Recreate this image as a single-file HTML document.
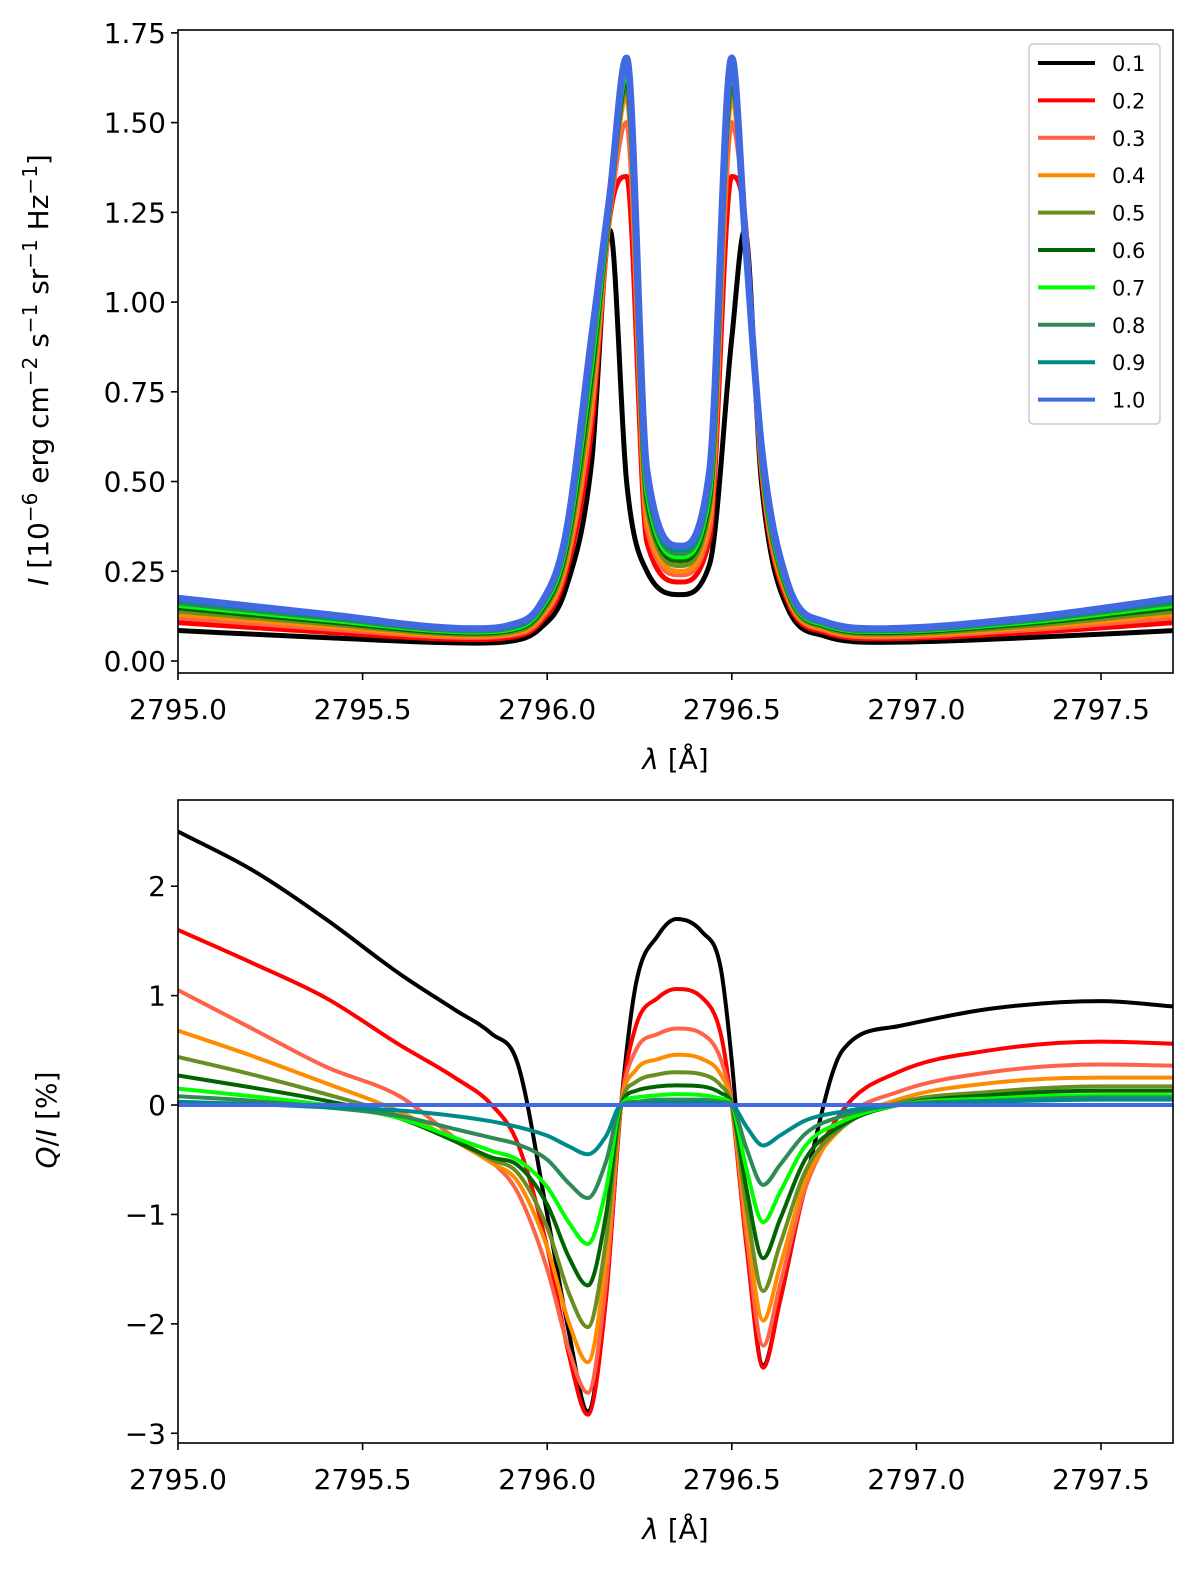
<!DOCTYPE html>
<html><head><meta charset="utf-8"><style>
body{margin:0;background:#fff;}
svg text{font-family:"DejaVu Sans","Liberation Sans",sans-serif;fill:#000;}
</style></head><body>
<svg id="fig" width="1200" height="1578" xmlns="http://www.w3.org/2000/svg"></svg>
<script>
const colors=["#000000","#ff0000","#ff6347","#ff8c00","#6b8e23","#006400","#00ff00","#2e8b57","#008b8b","#4169e1"];
const labels=["0.1","0.2","0.3","0.4","0.5","0.6","0.7","0.8","0.9","1.0"];
const gTop=[2795.0,2795.4,2795.8,2795.9,2795.98,2796.05,2796.12,2796.17,2796.215,2796.27,2796.36,2796.44,2796.5,2796.535,2796.58,2796.65,2796.75,2796.9,2797.3,2797.7];
const I01=[.085,.065,.05,.055,.09,.2,.55,1.2,.5,.25,.185,.27,.9,1.2,.5,.15,.07,.052,.065,.085];
const I02=[.107,.08,.06,.066,.105,.24,.64,1.24,1.35,.33,.22,.34,1.35,1.24,.53,.17,.08,.062,.079,.107];
const I03=[.121,.09,.066,.072,.113,.26,.69,1.25,1.5,.37,.24,.37,1.5,1.24,.54,.18,.086,.067,.087,.121];
const I04=[.13,.097,.07,.076,.12,.275,.725,1.26,1.57,.4,.25,.4,1.57,1.23,.55,.185,.09,.071,.093,.13];
const I05=[.139,.104,.074,.08,.127,.29,.76,1.27,1.6,.43,.266,.43,1.6,1.23,.56,.192,.094,.075,.098,.139];
const I06=[.148,.11,.078,.085,.134,.305,.795,1.27,1.62,.45,.28,.45,1.62,1.22,.565,.2,.098,.079,.104,.148];
const I07=[.155,.115,.081,.088,.14,.317,.823,1.28,1.64,.47,.29,.47,1.64,1.22,.57,.205,.101,.082,.108,.155];
const I08=[.162,.12,.084,.092,.145,.328,.848,1.29,1.66,.49,.30,.49,1.66,1.21,.575,.21,.104,.084,.112,.162];
const I09=[.169,.125,.087,.095,.15,.34,.876,1.29,1.67,.51,.31,.51,1.67,1.21,.58,.215,.107,.087,.116,.169];
const I10=[.175,.13,.09,.1,.155,.35,.9,1.3,1.68,.53,.32,.53,1.68,1.2,.6,.22,.11,.09,.12,.175];
const topSeries=[I01,I02,I03,I04,I05,I06,I07,I08,I09,I10];
const gBot=[2795.0,2795.2,2795.4,2795.6,2795.75,2795.85,2795.92,2796.0,2796.06,2796.11,2796.16,2796.2,2796.24,2796.3,2796.35,2796.42,2796.47,2796.5,2796.54,2796.585,2796.63,2796.7,2796.8,2796.95,2797.2,2797.5,2797.7];
const Q01=[2.5,2.15,1.7,1.2,.87,.65,.38,-1.0,-2.1,-2.8,-1.7,0,1.1,1.55,1.7,1.58,1.25,.4,-1.2,-2.38,-1.8,-.7,.5,.72,.88,.95,.9];
const Q02=[1.6,1.3,.98,.55,.25,0,-.35,-1.3,-2.3,-2.83,-1.75,0,.72,.98,1.06,.98,.65,0,-1.3,-2.4,-1.8,-.75,-.05,.3,.5,.58,.56];
const Q03=[1.05,.7,.35,.08,-.3,-.52,-.8,-1.5,-2.25,-2.63,-1.6,0,.5,.65,.7,.65,.42,0,-1.2,-2.2,-1.65,-.75,-.15,.12,.3,.37,.36];
const Q04=[.68,.45,.2,-.06,-.33,-.53,-.7,-1.3,-2.0,-2.35,-1.4,0,.32,.42,.46,.42,.28,0,-1.08,-1.97,-1.48,-.69,-.2,.05,.2,.25,.25];
const Q05=[.44,.28,.1,-.1,-.33,-.5,-.62,-1.12,-1.73,-2.03,-1.22,0,.21,.28,.3,.28,.18,0,-.94,-1.7,-1.28,-.6,-.2,.02,.12,.17,.17];
const Q06=[.27,.16,.04,-.12,-.33,-.48,-.55,-.91,-1.4,-1.65,-.99,0,.13,.17,.18,.17,.11,0,-.77,-1.4,-1.05,-.49,-.18,0,.09,.13,.13];
const Q07=[.15,.08,0,-.12,-.3,-.42,-.5,-.75,-1.08,-1.27,-.76,0,.07,.09,.1,.09,.06,0,-.59,-1.07,-.8,-.37,-.15,0,.06,.09,.09];
const Q08=[.08,.04,-.02,-.1,-.22,-.3,-.36,-.5,-.72,-.85,-.51,0,.03,.05,.05,.05,.03,0,-.4,-.73,-.55,-.26,-.1,0,.04,.07,.07];
const Q09=[.03,.01,-.02,-.05,-.1,-.15,-.2,-.28,-.38,-.45,-.28,0,.01,.02,.02,.02,.01,0,-.2,-.37,-.28,-.14,-.06,0,.03,.05,.05];
const Q10=[0,0,0,0,0,0,0,0,0,0,0,0,0,0,0,0,0,0,0,0,0,0,0,0,0,0,0];
const botSeries=[Q01,Q02,Q03,Q04,Q05,Q06,Q07,Q08,Q09,Q10];
const xTicks=[2795.0,2795.5,2796.0,2796.5,2797.0,2797.5];
const xTickLabels=["2795.0","2795.5","2796.0","2796.5","2797.0","2797.5"];
const yTopTicks=[0,0.25,0.5,0.75,1.0,1.25,1.5,1.75];
const yTopLabels=["0.00","0.25","0.50","0.75","1.00","1.25","1.50","1.75"];
const yBotTicks=[-3,-2,-1,0,1,2];
const yBotLabels=["\u22123","\u22122","\u22121","0","1","2"];

const NS="http://www.w3.org/2000/svg";
const svg=document.getElementById('fig');
function mk(tag,attrs,parent){const e=document.createElementNS(NS,tag);for(const k in attrs)e.setAttribute(k,attrs[k]);(parent||svg).appendChild(e);return e;}
// monotone cubic (Fritsch-Carlson)
function smooth(pts){
  const n=pts.length,dl=[],m=[];
  for(let i=0;i<n-1;i++)dl.push((pts[i+1][1]-pts[i][1])/(pts[i+1][0]-pts[i][0]));
  m[0]=dl[0];m[n-1]=dl[n-2];
  for(let i=1;i<n-1;i++){m[i]=(dl[i-1]*dl[i]<=0)?0:(dl[i-1]+dl[i])/2;}
  for(let i=0;i<n-1;i++){
    if(dl[i]===0){m[i]=0;m[i+1]=0;continue;}
    const a=m[i]/dl[i],b=m[i+1]/dl[i],h=a*a+b*b;
    if(h>9){const t=3/Math.sqrt(h);m[i]=t*a*dl[i];m[i+1]=t*b*dl[i];}
  }
  let d=`M${pts[0][0]},${pts[0][1]}`;
  for(let i=0;i<n-1;i++){const p1=pts[i],p2=pts[i+1],dx=(p2[0]-p1[0])/3;
    d+=` C${p1[0]+dx},${p1[1]+m[i]*dx} ${p2[0]-dx},${p2[1]-m[i+1]*dx} ${p2[0]},${p2[1]}`;}
  return d;}

function panel(cfg){
  const {L,R,T,B,xmin,xmax,ymin,ymax,grid,series,yt,ytl,name,lw}=cfg;
  const X=v=>L+(v-xmin)/(xmax-xmin)*(R-L);
  const Y=v=>B-(v-ymin)/(ymax-ymin)*(B-T);
  const g=mk('g',{});
  
  
  const cid='clip-'+name;
  const cp=mk('clipPath',{id:cid},g);mk('rect',{x:L,y:T,width:R-L,height:B-T},cp);
  const lines=mk('g',{'clip-path':`url(#${cid})`},g);
  series.forEach((s,k)=>{
    const pts=s.map((v,i)=>[X(grid[i]),Y(v)]);
    const p=mk('path',{d:smooth(pts),fill:'none',stroke:colors[k],'stroke-width':(k===9&&name==='intensity-panel')?7:lw,'stroke-linejoin':'round'},lines);
    
    
  });
  const fr=mk('rect',{x:L,y:T,width:R-L,height:B-T,fill:'none',stroke:'#000','stroke-width':1.6},g);
  
  
  xTicks.forEach((v,i)=>{
    mk('line',{x1:X(v),x2:X(v),y1:B,y2:B+7,stroke:'#000','stroke-width':1.6},g);
    const t=mk('text',{x:X(v),y:B+46,'text-anchor':'middle','font-size':28},g);t.textContent=xTickLabels[i];
    
    
  });
  yt.forEach((v,i)=>{
    mk('line',{x1:L-7,x2:L,y1:Y(v),y2:Y(v),stroke:'#000','stroke-width':1.6},g);
    const t=mk('text',{x:L-12,y:Y(v)+10,'text-anchor':'end','font-size':28},g);t.textContent=ytl[i];
    
    
  });
  const xl=mk('text',{x:(L+R)/2,y:B+96,'text-anchor':'middle','font-size':28},g);
  xl.innerHTML='<tspan font-style="italic">λ</tspan> [Å]';
  
  
}
panel({L:178,R:1173,T:30,B:673,xmin:2795.0,xmax:2797.695,ymin:-0.0334,ymax:1.758,grid:gTop,series:topSeries,yt:yTopTicks,ytl:yTopLabels,name:'intensity-panel',lw:5});
panel({L:178,R:1173,T:800,B:1443,xmin:2795.0,xmax:2797.695,ymin:-3.089,ymax:2.788,grid:gBot,series:botSeries,yt:yBotTicks,ytl:yBotLabels,name:'polarization-panel',lw:4});

const yt1=mk('text',{x:0,y:0,'text-anchor':'middle','font-size':28,transform:'translate(48,370) rotate(-90)'});
yt1.innerHTML='<tspan font-style="italic">I</tspan> [10<tspan dy="-11" font-size="20">−6</tspan><tspan dy="11"> erg cm</tspan><tspan dy="-11" font-size="20">−2</tspan><tspan dy="11"> s</tspan><tspan dy="-11" font-size="20">−1</tspan><tspan dy="11"> sr</tspan><tspan dy="-11" font-size="20">−1</tspan><tspan dy="11"> Hz</tspan><tspan dy="-11" font-size="20">−1</tspan><tspan dy="11">]</tspan>';


const yt2=mk('text',{x:0,y:0,'text-anchor':'middle','font-size':28,transform:'translate(56,1120) rotate(-90)'});
yt2.innerHTML='<tspan font-style="italic">Q</tspan>/<tspan font-style="italic">I</tspan> [%]';



const lg=mk('g',{});


mk('rect',{x:1029,y:44,width:131,height:380,rx:4,fill:'#fff',stroke:'#ccc','stroke-width':1.5},lg);
labels.forEach((lab,k)=>{
  const y=63+k*37.4;
  const e=mk('g',{},lg);
  
  
  mk('line',{x1:1038,x2:1095,y1:y,y2:y,stroke:colors[k],'stroke-width':4},e);
  const t=mk('text',{x:1112,y:y+8,'font-size':21},e);t.textContent=lab;
});
</script>
</body></html>
